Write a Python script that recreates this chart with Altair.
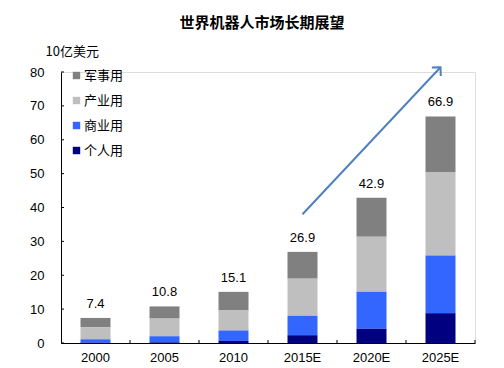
import altair as alt
import pandas as pd

years = ["2000", "2005", "2010", "2015E", "2020E", "2025E"]
segments = ["军事用", "产业用", "商业用", "个人用"]
colors = ["#808080", "#bfbfbf", "#3366ff", "#000080"]
military = [2.7, 3.6, 5.5, 7.9, 11.5, 16.6]
industrial = [3.6, 5.2, 5.9, 11.0, 16.3, 24.5]
commercial = [1.0, 1.8, 3.1, 5.7, 10.9, 17.0]
personal = [0.1, 0.2, 0.6, 2.3, 4.2, 8.8]
totals = [7.4, 10.8, 15.1, 26.9, 42.9, 66.9]
total_labels = ["7.4", "10.8", "15.1", "26.9", "42.9", "66.9"]
y_ticks = [0, 10, 20, 30, 40, 50, 60, 70, 80]
arrow_years = ["2015E", "2025E"]
arrow_values = [38.0, 81.4]

rows = []
series = {"军事用": military, "产业用": industrial, "商业用": commercial, "个人用": personal}
stack_order = {"个人用": 0, "商业用": 1, "产业用": 2, "军事用": 3}
for seg in segments:
    for yr, v in zip(years, series[seg]):
        rows.append({"year": yr, "segment": seg, "value": v, "ord": stack_order[seg]})
df = pd.DataFrame(rows)
df_tot = pd.DataFrame({"year": years, "value": totals, "label": total_labels})
df_arrow = pd.DataFrame({"year": arrow_years, "value": arrow_values})
df_head = df_arrow.iloc[[1]]
df_yt = pd.DataFrame({"value": y_ticks})
df_xt = pd.DataFrame({"year": years})

FONT = "Liberation Sans"
CJK = "Noto Sans CJK SC"

xscale = alt.Scale(domain=years, paddingInner=0, paddingOuter=0)
yscale = alt.Scale(domain=[0, 80], nice=False)

xaxis = alt.Axis(title=None, labelAngle=0, tickSize=0, labelPadding=8,
                 labelFont=FONT, labelFontSize=13, labelColor="black",
                 domainColor="black", domainWidth=1)
yaxis = alt.Axis(values=y_ticks, tickCount=9, grid=False, tickSize=0, labelPadding=17,
                 labelOverlap=False,
                 labelFont=FONT, labelFontSize=13, labelColor="black",
                 domainColor="black", domainWidth=1,
                 title="10亿美元", titleAngle=0, titleAlign="left",
                 titleBaseline="middle", titleX=-16, titleY=-21,
                 titleFont=CJK, titleFontSize=13, titleFontWeight="normal",
                 titleColor="black")


def X(**kw):
    return alt.X("year:N", scale=xscale, sort=years, axis=xaxis, **kw)


def Y(**kw):
    return alt.Y("value:Q", scale=yscale, axis=yaxis, **kw)


bars = alt.Chart(df).mark_bar(size=30).encode(
    x=X(),
    y=Y(stack="zero"),
    color=alt.Color("segment:N", scale=alt.Scale(domain=segments, range=colors),
                    legend=alt.Legend(title=None, orient="none", legendX=9, legendY=-3,
                                      symbolType="square", symbolSize=55,
                                      symbolStrokeWidth=0, labelFont=CJK,
                                      labelFontSize=13, labelColor="black",
                                      rowPadding=11, labelOffset=1)),
    order=alt.Order("ord:Q"),
)

labels = alt.Chart(df_tot).mark_text(
    font=FONT, fontSize=13, color="black", baseline="alphabetic", dy=-10
).encode(x=X(), y=Y(), text="label:N")

yt = alt.Chart(df_yt).mark_rule(color="black", strokeWidth=1).encode(
    y=Y(), x=alt.value(0), x2=alt.value(3)
)
xt = alt.Chart(df_xt).mark_rule(color="black", strokeWidth=1).encode(
    x=X(bandPosition=1), y=alt.value(268), y2=alt.value(271),
)

arrow = alt.Chart(df_arrow).mark_line(color="#4f81bd", strokeWidth=2).encode(
    x=X(), y=Y()
)
head = alt.Chart(df_head).mark_point(
    shape="M-1,1L0,0L1,1", filled=False, color="#4f81bd", strokeWidth=2,
    size=150, angle=43, opacity=1
).encode(x=X(), y=Y())

chart = alt.layer(bars, labels, yt, xt, arrow, head).properties(
    width=414, height=271,
    autosize=alt.AutoSizeParams(type="none"),
    padding={"left": 53, "top": 64, "right": 21, "bottom": 25},
    title=alt.TitleParams("世界机器人市场长期展望", font=CJK, fontSize=15,
                          fontWeight="bold", color="black", anchor="middle",
                          dx=-6, offset=14),
).configure_view(stroke=None).configure(background="white")

chart.save("out.html", embed_options={"renderer": "svg", "actions": False})
